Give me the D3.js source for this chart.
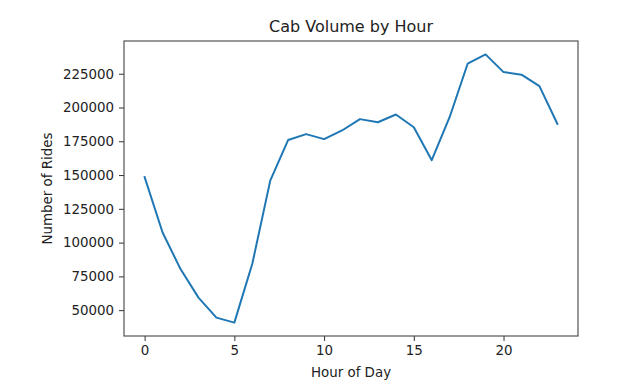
<!DOCTYPE html>
<html>
<head>
<meta charset="utf-8">
<script src="https://cdn.jsdelivr.net/npm/d3@7"></script>
<style>
  body { margin: 0; background: #fff; }
  text { font-family: "DejaVu Sans", sans-serif; fill: #222; }
</style>
</head>
<body>
<div id="chart-area"></div>
<script>
// data
const hours = [0, 1, 2, 3, 4, 5, 6, 7, 8, 9, 10, 11, 12, 13, 14, 15, 16, 17, 18, 19, 20, 21, 22, 23];
const rides = [148500, 107500, 80400, 59300, 44500, 40800, 84300, 145900, 176000, 180300, 176600, 183000,
               191400, 189100, 194800, 185400, 161000, 193000, 232400, 239300, 226200, 224300, 215800, 187900];
const xTicks = [0, 5, 10, 15, 20];
const yTicks = [50000, 75000, 100000, 125000, 150000, 175000, 200000, 225000];

const WIDTH = 643, HEIGHT = 388;
const MARGIN = { LEFT: 124, RIGHT: 65, TOP: 41, BOTTOM: 52 };
const innerW = WIDTH - MARGIN.LEFT - MARGIN.RIGHT;
const innerH = HEIGHT - MARGIN.TOP - MARGIN.BOTTOM;

const svg = d3.select("#chart-area")
  .append("svg")
    .attr("width", WIDTH)
    .attr("height", HEIGHT);

const g = svg.append("g")
  .attr("transform", `translate(${MARGIN.LEFT}, ${MARGIN.TOP})`);

// matplotlib style 5% margins
const xExt = d3.extent(hours), yExt = d3.extent(rides);
const xPad = (xExt[1] - xExt[0]) * 0.05, yPad = (yExt[1] - yExt[0]) * 0.05;

const x = d3.scaleLinear()
  .domain([xExt[0] - xPad, xExt[1] + xPad])
  .range([0, innerW]);

const y = d3.scaleLinear()
  .domain([yExt[0] - yPad, yExt[1] + yPad])
  .range([innerH, 0]);

const xAxisCall = d3.axisBottom(x).tickValues(xTicks).tickSize(5).tickPadding(4).tickFormat(d3.format("d"));
const yAxisCall = d3.axisLeft(y).tickValues(yTicks).tickSize(5).tickPadding(5).tickFormat(d3.format("d"));

const xAxis = g.append("g")
  .attr("class", "x-axis")
  .attr("transform", `translate(0, ${innerH})`)
  .call(xAxisCall);

const yAxis = g.append("g")
  .attr("class", "y-axis")
  .call(yAxisCall);

[xAxis, yAxis].forEach(a => {
  a.select(".domain").remove();
  a.selectAll("line").attr("stroke", "#333").attr("stroke-width", 1);
  a.selectAll("text").attr("font-size", "13.4px").attr("fill", "#222")
    .attr("font-family", "DejaVu Sans, sans-serif");
});

// frame
g.append("rect")
  .attr("width", innerW)
  .attr("height", innerH)
  .attr("fill", "none")
  .attr("stroke", "#444")
  .attr("stroke-width", 1.1);

// the line
const line = d3.line()
  .x((d, i) => x(hours[i]))
  .y(d => y(d));

g.append("path")
  .datum(rides)
  .attr("d", line)
  .attr("fill", "none")
  .attr("stroke", "#1f77b4")
  .attr("stroke-width", 2)
  .attr("stroke-linejoin", "round")
  .attr("stroke-linecap", "square");

// title and labels
g.append("text")
  .attr("x", innerW / 2)
  .attr("y", -9)
  .attr("font-size", "16px")
  .attr("text-anchor", "middle")
  .text("Cab Volume by Hour");

g.append("text")
  .attr("x", innerW / 2)
  .attr("y", innerH + 41)
  .attr("font-size", "13.4px")
  .attr("text-anchor", "middle")
  .text("Hour of Day");

g.append("text")
  .attr("x", -innerH / 2)
  .attr("y", -72)
  .attr("font-size", "13.4px")
  .attr("text-anchor", "middle")
  .attr("transform", "rotate(-90)")
  .text("Number of Rides");
</script>
</body>
</html>
